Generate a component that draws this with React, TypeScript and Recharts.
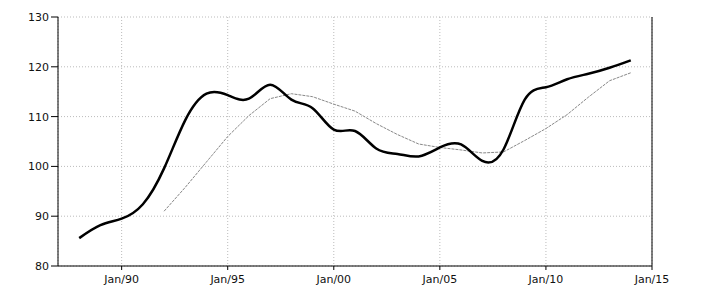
import React from "react";
import { CartesianGrid, Line, LineChart, XAxis, YAxis } from "recharts";

const years = [
  1988, 1989, 1990, 1991, 1992, 1993, 1994, 1995, 1996, 1997, 1998, 1999, 2000, 2001,
  2002, 2003, 2004, 2005, 2006, 2007, 2008, 2009, 2010, 2011, 2012, 2013, 2014,
];

// solid black series
const indexValues = [
  85.6, 88.2, 89.5, 92.4, 99.6, 109.3, 114.6, 114.3, 113.6, 116.4, 113.4, 111.7, 107.4, 107.1,
  103.6, 102.5, 102.0, 103.8, 104.4, 101.1, 103.4, 113.4, 115.9, 117.5, 118.6, 119.8, 121.3,
];

// thin grey series, starts in 1992
const trendValues = [
  null, null, null, null, 91.0, 95.8, 100.9, 106.0, 110.2, 113.6, 114.6, 114.0, 112.5, 111.1,
  108.6, 106.4, 104.5, 103.8, 103.3, 102.7, 102.9, 105.2, 107.6, 110.4, 113.9, 117.2, 118.8,
];

const xTicks = [1990, 1995, 2000, 2005, 2010, 2015];
const yTicks = [80, 90, 100, 110, 120, 130];

const data = years.map((year, i) => ({
  year,
  index: indexValues[i],
  trend: trendValues[i],
}));

const tickStyle = { fontSize: 11, fill: "#111", fontFamily: "'DejaVu Sans', sans-serif" };

const App: React.FC = () => {
  return (
    <div style={{ position: "absolute", left: 0, top: 0, background: "#fff" }}>
      <LineChart width={710} height={300} data={data} margin={{ top: 17, right: 8, bottom: 4, left: 8 }}>
        <CartesianGrid strokeDasharray="1 2" stroke="#bbb" yAxisId="left" />
        <XAxis
          dataKey="year"
          type="number"
          domain={[1987, 2015]}
          ticks={xTicks}
          tickFormatter={(y: number) => `Jan/${String(y).slice(2)}`}
          height={30}
          tickSize={4}
          tickMargin={5}
          tick={tickStyle}
          stroke="#000"
          tickLine={{ stroke: "#000" }}
        />
        <YAxis
          yAxisId="left"
          domain={[80, 130]}
          ticks={yTicks}
          width={50}
          tickSize={7}
          tickMargin={2}
          tick={tickStyle}
          stroke="#000"
          tickLine={{ stroke: "#000" }}
        />
        <YAxis
          yAxisId="right"
          orientation="right"
          domain={[80, 130]}
          ticks={yTicks}
          width={50}
          tickSize={7}
          tickMargin={1}
          tick={tickStyle}
          stroke="#000"
          tickLine={{ stroke: "#000" }}
        />
        <Line
          yAxisId="left"
          type="linear"
          dataKey="trend"
          stroke="#888"
          strokeWidth={1}
          strokeDasharray="3 1"
          dot={false}
          isAnimationActive={false}
        />
        <Line
          yAxisId="left"
          type="natural"
          dataKey="index"
          stroke="#000"
          strokeWidth={2.5}
          dot={false}
          isAnimationActive={false}
        />
      </LineChart>
    </div>
  );
};

export default App;
